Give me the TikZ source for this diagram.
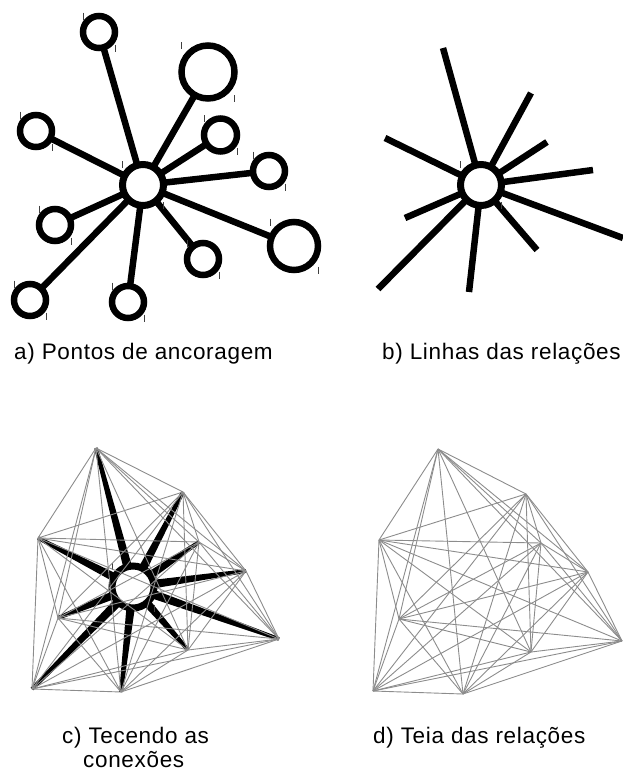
\documentclass[tikz,border=0pt]{standalone}
\usepackage{fontspec}
\setmainfont{Liberation Sans}[LetterSpace=3]
\usetikzlibrary{calc}

\tikzset{
  ring/.style={circle, draw=black, line width=6.5pt, fill=white, inner sep=0pt, minimum size={2*#1}},
  hubring/.style={circle, draw=black, line width=7pt, fill=white, inner sep=0pt, minimum size={2*#1}},
  spoke/.style={line width=6.5pt, black, line cap=butt},
  web/.style={draw=black!45, line width=0.9pt},
  handle/.style={draw=black!75, line width=0.8pt},
  caption/.style={anchor=base west, inner sep=0pt, font=\fontsize{22.5}{24}\selectfont}
}

% small selection handles at two corners of a circle's box
\newcommand\handles[2]{%
  \draw[handle] ($(#1.center)+(-#2,-#2-3.5)$) -- ++(0,7);
  \draw[handle] ($(#1.center)+(#2,#2-3.5)$) -- ++(0,7);
}

\begin{document}
\begin{tikzpicture}[x=1pt,y=-1pt]
\useasboundingbox (0,0) rectangle (623,774);

% ---------- a) anchor points ----------
\coordinate (ha) at (143,185);
\foreach \n/\x/\y/\r in {1/99/32/16, 2/208/72/26.5, 3/220.5/135/16.5, 4/269/171/16,
                          5/294/246/24, 6/203/259/16, 7/128/302/16, 8/30/300/16,
                          9/55/225/16, 10/36/131/16} {
  \coordinate (pa\n) at (\x,\y);
  \draw[spoke] (ha) -- (pa\n);
}
\node[hubring=20.5] (hubA) at (ha) {};
\handles{hubA}{20.5}
\foreach \n/\r in {1/16, 2/26.5, 3/16.5, 4/16, 5/24, 6/16, 7/16, 8/16, 9/16, 10/16} {
  \node[ring=\r] (a\n) at (pa\n) {};
  \handles{a\n}{\r}
}
\node[caption] (capA) at (14,359) {a) Pontos de ancoragem};

% ---------- b) lines of the relations ----------
\coordinate (hb) at (481,185);
\foreach \n/\x/\y in {1/443/48, 2/531/93, 3/547/142, 4/593/170, 5/623/238,
                      6/537/250, 7/469/292, 8/378/289, 9/405/218, 10/385/138} {
  \coordinate (b\n) at (\x,\y);
  \draw[spoke] (hb) -- (b\n);
}
\node[hubring=20.5] (hubB) at (hb) {};
\handles{hubB}{20.5}
\node[caption] (capB) at (382,359) {b) Linhas das relações};

% ---------- c) weaving the connections ----------
\coordinate (hc) at (133,587);
\foreach \n/\x/\y in {1/96/448, 2/183/492, 3/199/542, 4/246/571, 5/279/639,
                      6/188/650, 7/121/692, 8/32/689, 9/58/618, 10/38/538} {
  \coordinate (c\n) at (\x,\y);
  \fill[black] ($(hc)!4.8pt!90:(c\n)$) -- ($(c\n)!1.8pt!-90:(hc)$)
       -- ($(c\n)!1.8pt!90:(hc)$) -- ($(hc)!4.8pt!-90:(c\n)$) -- cycle;
}
\node[hubring=21] (hubC) at (hc) {};
\handles{hubC}{21}
\foreach \i in {1,...,9} {
  \pgfmathtruncatemacro\k{\i+1}
  \foreach \j in {\k,...,10} { \draw[web] (c\i) -- (c\j); }
}
\node[caption] (capC1) at (62,743) {c) Tecendo as};
\node[caption] (capC2) at (83,767) {conexões};

% ---------- d) web of the relations ----------
\foreach \n/\x/\y in {1/438/449, 2/526/494, 3/541/543, 4/588/572, 5/622/641,
                      6/531/652, 7/463/694, 8/373/691, 9/399/619, 10/379/540} {
  \coordinate (d\n) at (\x,\y);
}
\foreach \i in {1,...,9} {
  \pgfmathtruncatemacro\k{\i+1}
  \foreach \j in {\k,...,10} { \draw[web] (d\i) -- (d\j); }
}
\node[caption] (capD) at (373,743) {d) Teia das relações};
\end{tikzpicture}
\end{document}
